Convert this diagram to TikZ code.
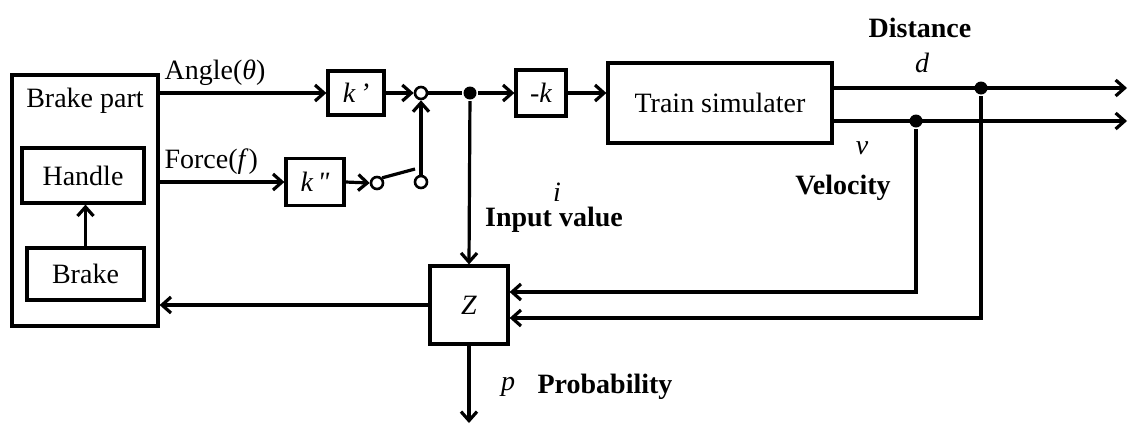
\documentclass[tikz,border=0pt]{standalone}
\usepackage{fontspec}
\setmainfont{Liberation Serif}
\newfontfamily\rawserif{Liberation Serif}
\usetikzlibrary{arrows.meta}
\begin{document}
\begin{tikzpicture}[x=0.5pt,y=-0.5pt,
  line width=1.6pt,
  font=\fontsize{14pt}{16pt}\selectfont,
  blk/.style={draw, inner sep=0pt},
  arr/.style={-{Straight Barb[length=4.5pt,width=8pt,line width=1.6pt]}},
  hole/.style={circle, draw, fill=white, minimum size=6pt, inner sep=0pt, line width=1.3pt},
  junc/.style={circle, fill=black, minimum size=6.5pt, inner sep=0pt},
  lbl/.style={inner sep=0pt},
  blbl/.style={inner sep=0pt, font=\fontsize{14pt}{16pt}\selectfont\bfseries}]
\useasboundingbox (0,0) rectangle (1128,424);

% brake part with its inner blocks
\node[blk, minimum width=73pt, minimum height=125.5pt] (part) at (85,200.5) {};
\node[lbl] (parttitle) at (85,101) {Brake part};
\node[blk, minimum width=61pt, minimum height=27.5pt] (handle) at (83,175.5) {Handle};
\node[blk, minimum width=58.5pt, minimum height=26pt] (brake) at (85.5,274) {Brake};
\draw[arr] (brake.north) -- (brake.north |- handle.south);

% gains, summing point and switch
\node[blk, minimum width=28pt, minimum height=22pt] (kp) at (356,93) {\itshape k\,’};
\node[blk, minimum width=29pt, minimum height=23.5pt] (kpp) at (315,182) {\rawserif\itshape k\,"};
\node[hole] (sum) at (421,93) {};
\node[hole] (sw1) at (377,183) {};
\node[hole] (sw2) at (421,182) {};
\coordinate (lever) at (415,169);
\node[junc] (split) at (470,93) {};
\node[blk, minimum width=25pt, minimum height=23pt] (mk) at (541,93) {\itshape -k};
\node[blk, minimum width=112pt, minimum height=40pt] (train) at (720,103) {Train simulater};

% evaluation block
\node[blk, minimum width=39pt, minimum height=39pt] (z) at (469,305) {\itshape Z};

% output taps
\node[junc] (dd) at (981,88) {};
\node[junc] (vd) at (916,121) {};
\coordinate (dend) at (1127,88);
\coordinate (vend) at (1127,121);
\coordinate (pend) at (469,423);

% signal paths
\draw[arr] (kp.west -| part.east) -- (kp.west);
\draw[arr] (kpp.west -| part.east) -- (kpp.west);
\draw[arr] (kp.east) -- (sum.west);
\draw[arr] (kpp.east) -- (sw1.west);
\draw (sw1.north east) -- (lever);
\draw[arr] (sw2.north) -- (sum.south);
\draw (sum.east) -- (split);
\draw[arr] (split) -- (mk.west);
\draw[arr] (mk.east) -- (mk.east -| train.west);
\draw[arr] (split) -- (z.north);
\draw[arr] (train.east |- dend) -- (dend);
\draw[arr] (train.east |- vend) -- (vend);
\draw[arr] (vd) |- ([yshift=6.5pt]z.east);
\draw[arr] (dd) |- ([yshift=-6.5pt]z.east);
\draw[arr] (z.west) -- (z.west -| part.east);
\draw[arr] (z.south) -- (pend);

% labels
\node[lbl, anchor=west] (anglelbl) at (163,73) {Angle(\textit{θ})};
\node[lbl, anchor=west] (forcelbl) at (163,162) {Force(\textit{f})};
\node[blbl] (distlbl) at (920,28) {Distance};
\node[lbl] (dlbl) at (922,63) {\itshape d};
\node[lbl] (vlbl) at (862,148) {\itshape v};
\node[blbl] (vellbl) at (843,188) {Velocity};
\node[lbl] (ilbl) at (557,192) {\itshape i};
\node[blbl] (inlbl) at (554,220) {Input value};
\node[lbl] (plbl) at (508,387) {\itshape p};
\node[blbl] (problbl) at (605,387) {Probability};
\end{tikzpicture}
\end{document}
